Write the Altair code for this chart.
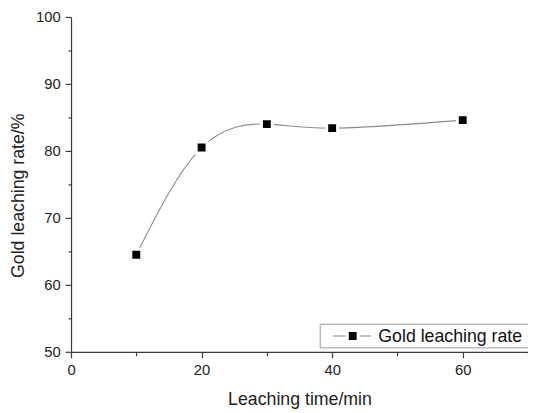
import altair as alt
import pandas as pd

# ---- data ----
time_min = [10, 20, 30, 40, 60]
leach_rate = [64.5, 80.5, 84.0, 83.4, 84.6]
series_name = ["Gold leaching rate"]
x_tick_values = [0, 10, 20, 30, 40, 50, 60, 70]
y_tick_values = [50, 55, 60, 65, 70, 75, 80, 85, 90, 95, 100]

df = pd.DataFrame({"t": time_min, "r": leach_rate})
legend_df = pd.DataFrame({"name": series_name})

FONT = "Liberation Sans"
AX = "#3a3a3a"
W, H = 464, 340

xscale = alt.Scale(domain=[0, 70], nice=False, zero=False)
yscale = alt.Scale(domain=[50, 100], nice=False, zero=False)

xaxis = alt.Axis(
    values=x_tick_values,
    labelExpr="datum.value % 20 === 0 ? datum.label : ''",
    tickSize={"condition": {"test": "datum.value % 20 === 0", "value": 6}, "value": 4},
    labelFlush=False,
    grid=False,
    title="Leaching time/min",
    titleFontSize=18,
    titleFontWeight="normal",
    titlePadding=13,
    labelFontSize=15,
    labelPadding=5,
)
yaxis = alt.Axis(
    values=y_tick_values,
    labelExpr="datum.value % 10 === 0 ? datum.label : ''",
    tickSize={"condition": {"test": "datum.value % 10 === 0", "value": 6}, "value": 3},
    labelFlush=False,
    grid=False,
    title="Gold leaching rate/%",
    titleFontSize=18,
    titleFontWeight="normal",
    titleX=-44,
    titleY=181,
    titleAngle=270,
    titleAlign="center",
    titleBaseline="bottom",
    labelFontSize=15,
    labelPadding=5,
)

x = alt.X("t:Q", scale=xscale, axis=xaxis)
y = alt.Y("r:Q", scale=yscale, axis=yaxis)

line = alt.Chart(df).mark_line(interpolate="natural", color="#8c8c8c", strokeWidth=1.1).encode(x=x, y=y)
pts = alt.Chart(df).mark_square(size=121, fill="black", stroke="white", strokeWidth=3, opacity=1).encode(x=x, y=y)

# legend box (drawn manually to match the Origin style)
lg_box = alt.Chart(legend_df).mark_rect(fill="white", stroke="#9a9a9a", strokeWidth=1).encode(
    x=alt.value(253), x2=alt.value(470), y=alt.value(312), y2=alt.value(336)
)
lg_line = alt.Chart(legend_df).mark_rule(color="#8c8c8c", strokeWidth=1.1).encode(
    x=alt.value(266), x2=alt.value(305), y=alt.value(324)
)
lg_sq = alt.Chart(legend_df).mark_square(size=121, fill="black", stroke="white", strokeWidth=3, opacity=1).encode(
    x=alt.value(286), y=alt.value(324)
)
lg_text = alt.Chart(legend_df).mark_text(align="left", baseline="middle", fontSize=18, font=FONT, color="#111").encode(
    x=alt.value(312), y=alt.value(325), text="name:N"
)

chart = (
    alt.layer(line, pts, lg_box, lg_line, lg_sq, lg_text)
    .properties(
        width=W,
        height=H,
        autosize=alt.AutoSizeParams(type="none"),
        padding={"left": 64, "top": 6, "right": 0, "bottom": 58},
    )
    .configure_view(stroke=None)
    .configure_axis(
        domainColor=AX,
        tickColor=AX,
        domainWidth=1.2,
        tickWidth=1.2,
        labelColor="#222",
        titleColor="#222",
        labelFont=FONT,
        titleFont=FONT,
    )
)

chart.save("out.html", embed_options={"renderer": "svg", "actions": False})
